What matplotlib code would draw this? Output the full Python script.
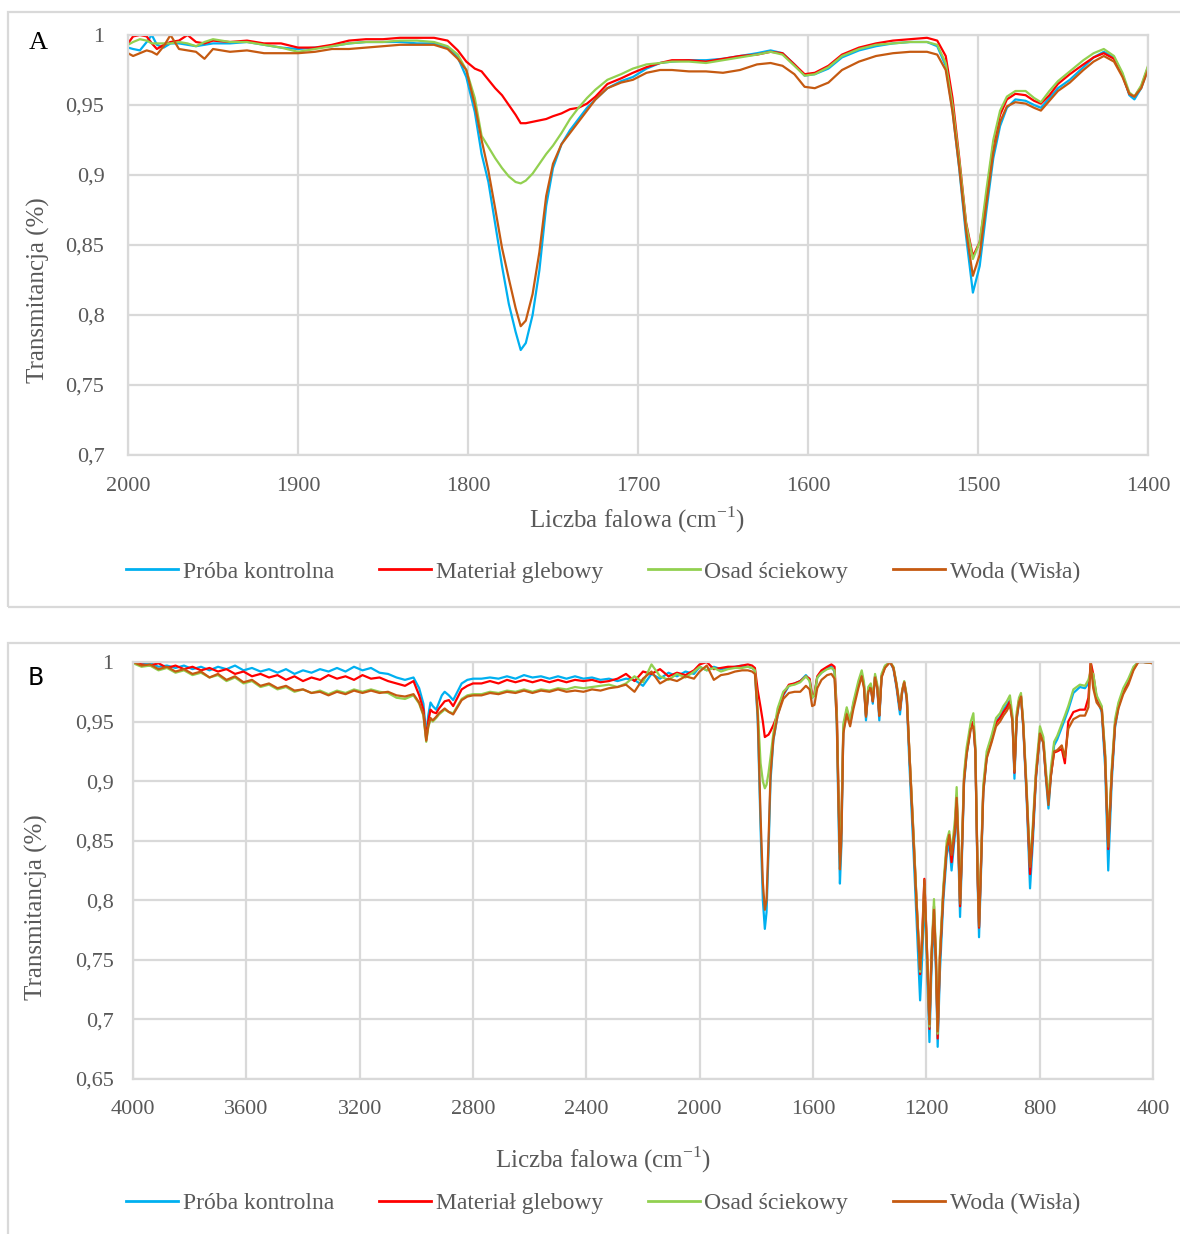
import matplotlib
matplotlib.use("Agg")
import matplotlib.pyplot as plt
from matplotlib.patches import Rectangle

plt.rcParams['font.family'] = ['Liberation Serif', 'DejaVu Serif']
plt.rcParams['mathtext.fontset'] = 'custom'
plt.rcParams['mathtext.rm'] = 'Liberation Serif'

# --- series names and colours ---
series_names = ['Próba kontrolna', 'Materiał glebowy', 'Osad ściekowy', 'Woda (Wisła)']
series_colors = ['#00B0F0', '#FF0000', '#92D050', '#C55A11']

# --- panel A: 2000-1400 cm-1 ---
wn_a = [2000, 1997, 1993, 1989, 1986, 1983, 1979, 1975, 1970, 1965, 1960, 1955, 1950,
        1940, 1930, 1920, 1910, 1900, 1890, 1880, 1870, 1860, 1850, 1840, 1830, 1820,
        1812, 1806, 1801, 1796, 1792, 1788, 1784, 1780, 1776, 1772, 1769, 1766, 1762,
        1758, 1754, 1750, 1745, 1740, 1735, 1730, 1725, 1718, 1710, 1703, 1695, 1687,
        1680, 1670, 1660, 1650, 1640, 1630, 1622, 1615, 1608, 1602, 1596, 1588, 1580,
        1570, 1560, 1550, 1540, 1530, 1524, 1519, 1515, 1511, 1507, 1503, 1499, 1495,
        1491, 1487, 1483, 1478, 1472, 1467, 1463, 1458, 1453, 1446, 1438, 1432, 1426,
        1420, 1415, 1411, 1408, 1404, 1400]

kontrola_a = [0.991, 0.990, 0.989, 0.995, 1.000, 0.993, 0.991, 0.994, 0.994, 0.993, 0.992, 0.993, 0.994,
              0.994, 0.995, 0.993, 0.991, 0.990, 0.991, 0.992, 0.994, 0.995, 0.995, 0.995, 0.994, 0.994,
              0.991, 0.984, 0.970, 0.945, 0.915, 0.895, 0.865, 0.835, 0.808, 0.788, 0.775, 0.780, 0.800,
              0.832, 0.878, 0.905, 0.922, 0.932, 0.940, 0.948, 0.954, 0.962, 0.967, 0.970, 0.976, 0.980,
              0.981, 0.982, 0.982, 0.983, 0.985, 0.987, 0.989, 0.987, 0.979, 0.971, 0.972, 0.976, 0.984,
              0.989, 0.992, 0.994, 0.995, 0.995, 0.992, 0.978, 0.946, 0.904, 0.856, 0.816, 0.835, 0.875,
              0.912, 0.935, 0.948, 0.954, 0.953, 0.950, 0.948, 0.955, 0.962, 0.968, 0.977, 0.984, 0.988,
              0.984, 0.972, 0.957, 0.954, 0.962, 0.976]

gleba_a = [0.994, 0.999, 1.000, 0.999, 0.994, 0.990, 0.993, 0.995, 0.996, 1.000, 0.995, 0.994, 0.996,
           0.995, 0.996, 0.994, 0.994, 0.991, 0.991, 0.993, 0.996, 0.997, 0.997, 0.998, 0.998, 0.998,
           0.996, 0.989, 0.981, 0.976, 0.974, 0.968, 0.962, 0.957, 0.950, 0.943, 0.937, 0.937, 0.938,
           0.939, 0.940, 0.942, 0.944, 0.947, 0.948, 0.951, 0.956, 0.965, 0.969, 0.973, 0.977, 0.980,
           0.982, 0.982, 0.981, 0.983, 0.985, 0.986, 0.988, 0.987, 0.979, 0.972, 0.973, 0.978, 0.986,
           0.991, 0.994, 0.996, 0.997, 0.998, 0.996, 0.985, 0.955, 0.912, 0.866, 0.842, 0.852, 0.885,
           0.922, 0.943, 0.954, 0.958, 0.957, 0.953, 0.951, 0.957, 0.965, 0.972, 0.979, 0.984, 0.987,
           0.983, 0.971, 0.958, 0.956, 0.963, 0.977]

osad_a = [0.993, 0.995, 0.997, 0.996, 0.994, 0.994, 0.994, 0.994, 0.995, 0.994, 0.992, 0.995, 0.997,
          0.995, 0.995, 0.993, 0.991, 0.988, 0.990, 0.992, 0.994, 0.995, 0.995, 0.996, 0.996, 0.995,
          0.992, 0.986, 0.975, 0.955, 0.928, 0.920, 0.912, 0.905, 0.899, 0.895, 0.894, 0.896, 0.901,
          0.908, 0.915, 0.921, 0.930, 0.940, 0.948, 0.955, 0.961, 0.968, 0.972, 0.976, 0.979, 0.980,
          0.981, 0.981, 0.980, 0.982, 0.984, 0.986, 0.988, 0.986, 0.978, 0.971, 0.972, 0.977, 0.985,
          0.990, 0.993, 0.994, 0.995, 0.995, 0.993, 0.980, 0.950, 0.910, 0.865, 0.840, 0.852, 0.890,
          0.925, 0.946, 0.956, 0.960, 0.960, 0.955, 0.952, 0.960, 0.967, 0.974, 0.982, 0.987, 0.990,
          0.985, 0.973, 0.959, 0.956, 0.964, 0.978]

woda_a = [0.987, 0.985, 0.987, 0.989, 0.988, 0.986, 0.992, 1.000, 0.990, 0.989, 0.988, 0.983, 0.990,
          0.988, 0.989, 0.987, 0.987, 0.987, 0.988, 0.990, 0.990, 0.991, 0.992, 0.993, 0.993, 0.993,
          0.990, 0.983, 0.975, 0.950, 0.925, 0.903, 0.876, 0.848, 0.826, 0.805, 0.792, 0.796, 0.815,
          0.845, 0.885, 0.908, 0.922, 0.930, 0.938, 0.946, 0.954, 0.962, 0.966, 0.968, 0.973, 0.975,
          0.975, 0.974, 0.974, 0.973, 0.975, 0.979, 0.980, 0.978, 0.972, 0.963, 0.962, 0.966, 0.975,
          0.981, 0.985, 0.987, 0.988, 0.988, 0.986, 0.975, 0.945, 0.905, 0.860, 0.828, 0.843, 0.880,
          0.916, 0.938, 0.949, 0.952, 0.951, 0.948, 0.946, 0.953, 0.960, 0.966, 0.975, 0.981, 0.985,
          0.981, 0.970, 0.958, 0.956, 0.962, 0.975]

# --- panel B: 4000-400 cm-1 ---
wn_b = [4000, 3970, 3940, 3910, 3880, 3850, 3820, 3790, 3760, 3730, 3700, 3670, 3640, 3610,
        3580, 3550, 3520, 3490, 3460, 3430, 3400, 3370, 3340, 3310, 3280, 3250, 3220, 3190,
        3160, 3130, 3100, 3070, 3040, 3010,
        2990, 2975, 2965, 2958, 2950, 2942, 2930, 2920, 2910, 2900, 2885, 2870, 2855, 2840,
        2820, 2800,
        2770, 2740, 2710, 2680, 2650, 2620, 2590, 2560, 2530, 2500, 2470, 2440, 2410, 2380,
        2350, 2320, 2290, 2260, 2230, 2200, 2170, 2140, 2110, 2080, 2050, 2020,
        2000, 1975, 1950, 1925, 1900, 1875, 1850, 1830, 1815,
        1805, 1795, 1785, 1777, 1770, 1764, 1757, 1750, 1740, 1725, 1705, 1685, 1665, 1645,
        1625, 1612, 1603, 1595, 1585, 1570, 1550, 1535, 1524, 1516, 1510, 1505, 1500, 1493,
        1481, 1469, 1458, 1440, 1428, 1420, 1413, 1405, 1396, 1389, 1381, 1373, 1366, 1358,
        1346, 1328, 1316, 1305, 1293, 1285, 1278, 1269, 1260, 1246, 1234, 1222, 1214, 1207,
        1199, 1189, 1182, 1173, 1166, 1160, 1152, 1140, 1128, 1119, 1111, 1099, 1093, 1087,
        1081, 1075, 1067, 1058, 1043, 1034, 1027, 1019, 1014, 1008, 999, 987, 969, 954,
        940, 928, 916, 905, 896, 889, 881, 873, 866, 858, 846, 834, 825, 813,
        799, 787, 778, 769, 760, 749, 738, 722, 711, 699, 681, 658, 640, 628,
        620, 611, 599, 581, 569, 558, 546, 534, 522, 505, 487, 469, 452, 434, 400]

kontrola_b = [1.000, 0.998, 0.999, 0.996, 0.997, 0.995, 0.997, 0.994, 0.996, 0.993, 0.996, 0.994, 0.997, 0.993,
              0.995, 0.992, 0.994, 0.991, 0.994, 0.990, 0.993, 0.991, 0.994, 0.992, 0.995, 0.992, 0.996, 0.993,
              0.995, 0.991, 0.990, 0.987, 0.985, 0.987,
              0.978, 0.965, 0.938, 0.955, 0.966, 0.963, 0.960, 0.966, 0.972, 0.975, 0.972, 0.968, 0.975, 0.982,
              0.985, 0.986,
              0.986, 0.987, 0.986, 0.988, 0.986, 0.989, 0.987, 0.988, 0.986, 0.988, 0.986, 0.988, 0.986, 0.987,
              0.985, 0.986, 0.984, 0.986, 0.985, 0.980, 0.990, 0.986, 0.991, 0.988, 0.992, 0.990,
              0.996, 0.993, 0.996, 0.994, 0.995, 0.996, 0.997, 0.996, 0.995,
              0.993, 0.950, 0.860, 0.800, 0.776, 0.790, 0.840, 0.900, 0.934, 0.955, 0.972, 0.980, 0.982, 0.984,
              0.989, 0.985, 0.970, 0.972, 0.987, 0.991, 0.995, 0.996, 0.992, 0.948, 0.870, 0.814, 0.845, 0.942,
              0.958, 0.948, 0.963, 0.981, 0.990, 0.981, 0.951, 0.976, 0.980, 0.965, 0.988, 0.978, 0.951, 0.988,
              0.996, 1.000, 0.994, 0.978, 0.956, 0.975, 0.982, 0.968, 0.915, 0.845, 0.780, 0.716, 0.755, 0.805,
              0.755, 0.681, 0.740, 0.785, 0.740, 0.677, 0.740, 0.800, 0.838, 0.848, 0.825, 0.855, 0.885, 0.840,
              0.786, 0.830, 0.898, 0.922, 0.946, 0.950, 0.924, 0.815, 0.769, 0.815, 0.890, 0.920, 0.935, 0.950,
              0.954, 0.960, 0.964, 0.968, 0.950, 0.902, 0.952, 0.966, 0.971, 0.945, 0.885, 0.810, 0.845, 0.902,
              0.940, 0.932, 0.902, 0.877, 0.905, 0.930, 0.935, 0.945, 0.952, 0.960, 0.974, 0.979, 0.978, 0.982,
              0.990, 0.985, 0.970, 0.958, 0.912, 0.825, 0.898, 0.945, 0.962, 0.976, 0.984, 0.995, 1.000, 1.000, 0.999]

gleba_b = [1.000, 0.998, 0.997, 0.999, 0.995, 0.997, 0.994, 0.996, 0.993, 0.995, 0.992, 0.994, 0.990, 0.992,
           0.988, 0.990, 0.987, 0.989, 0.985, 0.988, 0.984, 0.987, 0.985, 0.989, 0.986, 0.988, 0.985, 0.989,
           0.986, 0.987, 0.984, 0.982, 0.980, 0.984,
           0.972, 0.960, 0.935, 0.950, 0.960, 0.958, 0.957, 0.961, 0.964, 0.967, 0.968, 0.963, 0.970, 0.977,
           0.980, 0.982,
           0.982, 0.984, 0.982, 0.985, 0.983, 0.985, 0.983, 0.985, 0.983, 0.985, 0.983, 0.985, 0.984, 0.985,
           0.983, 0.984, 0.986, 0.990, 0.984, 0.992, 0.990, 0.994, 0.988, 0.991, 0.989, 0.993,
           0.998, 1.000, 0.994, 0.995, 0.996, 0.996, 0.997, 0.998, 0.997,
           0.995, 0.976, 0.962, 0.950, 0.937, 0.938, 0.939, 0.942, 0.947, 0.956, 0.973, 0.981, 0.982, 0.984,
           0.988, 0.986, 0.972, 0.973, 0.988, 0.993, 0.996, 0.998, 0.996, 0.960, 0.890, 0.840, 0.860, 0.944,
           0.960, 0.950, 0.964, 0.981, 0.989, 0.980, 0.955, 0.976, 0.980, 0.967, 0.988, 0.979, 0.955, 0.988,
           0.996, 1.000, 0.995, 0.980, 0.960, 0.976, 0.983, 0.970, 0.925, 0.858, 0.797, 0.738, 0.775, 0.818,
           0.768, 0.692, 0.752, 0.795, 0.748, 0.684, 0.752, 0.808, 0.845, 0.852, 0.832, 0.860, 0.888, 0.848,
           0.795, 0.838, 0.902, 0.924, 0.946, 0.950, 0.926, 0.822, 0.777, 0.822, 0.893, 0.921, 0.935, 0.949,
           0.953, 0.958, 0.962, 0.967, 0.952, 0.907, 0.955, 0.968, 0.972, 0.948, 0.890, 0.822, 0.852, 0.905,
           0.940, 0.933, 0.905, 0.885, 0.906, 0.924, 0.925, 0.927, 0.915, 0.950, 0.958, 0.960, 0.960, 0.970,
           1.000, 0.990, 0.970, 0.962, 0.920, 0.843, 0.905, 0.948, 0.964, 0.975, 0.983, 0.994, 1.000, 1.000, 0.999]

osad_b = [0.999, 0.996, 0.997, 0.993, 0.995, 0.991, 0.993, 0.989, 0.991, 0.987, 0.989, 0.984, 0.987, 0.982,
          0.984, 0.979, 0.981, 0.977, 0.979, 0.975, 0.977, 0.974, 0.976, 0.973, 0.976, 0.974, 0.977, 0.975,
          0.977, 0.975, 0.974, 0.970, 0.969, 0.972,
          0.965, 0.955, 0.933, 0.945, 0.952, 0.950, 0.953, 0.956, 0.958, 0.960, 0.958, 0.957, 0.963, 0.969,
          0.972, 0.973,
          0.973, 0.975, 0.974, 0.976, 0.975, 0.977, 0.975, 0.977, 0.976, 0.978, 0.977, 0.979, 0.978, 0.979,
          0.980, 0.981, 0.979, 0.982, 0.988, 0.983, 0.998, 0.988, 0.985, 0.990, 0.987, 0.992,
          0.996, 0.993, 0.995, 0.992, 0.994, 0.995, 0.995, 0.996, 0.995,
          0.993, 0.960, 0.915, 0.900, 0.894, 0.897, 0.907, 0.920, 0.940, 0.961, 0.975, 0.980, 0.981, 0.983,
          0.988, 0.984, 0.970, 0.972, 0.987, 0.991, 0.994, 0.995, 0.993, 0.955, 0.888, 0.838, 0.862, 0.948,
          0.962, 0.951, 0.966, 0.984, 0.993, 0.983, 0.956, 0.979, 0.982, 0.969, 0.990, 0.981, 0.957, 0.990,
          0.997, 1.000, 0.996, 0.982, 0.962, 0.977, 0.984, 0.972, 0.926, 0.860, 0.798, 0.740, 0.770, 0.812,
          0.765, 0.694, 0.755, 0.801, 0.755, 0.688, 0.758, 0.812, 0.850, 0.858, 0.840, 0.868, 0.895, 0.852,
          0.799, 0.842, 0.906, 0.928, 0.950, 0.957, 0.930, 0.826, 0.782, 0.826, 0.897, 0.925, 0.939, 0.953,
          0.957, 0.963, 0.967, 0.972, 0.955, 0.910, 0.958, 0.970, 0.974, 0.950, 0.895, 0.830, 0.860, 0.910,
          0.946, 0.937, 0.910, 0.886, 0.912, 0.933, 0.938, 0.948, 0.955, 0.963, 0.977, 0.981, 0.980, 0.985,
          0.992, 0.990, 0.972, 0.963, 0.925, 0.848, 0.910, 0.952, 0.966, 0.978, 0.986, 0.996, 1.000, 1.000, 0.999]

woda_b = [1.000, 0.997, 0.998, 0.994, 0.996, 0.992, 0.994, 0.990, 0.992, 0.987, 0.990, 0.985, 0.988, 0.983,
          0.985, 0.980, 0.982, 0.978, 0.980, 0.976, 0.977, 0.974, 0.975, 0.972, 0.975, 0.973, 0.976, 0.974,
          0.976, 0.974, 0.975, 0.972, 0.971, 0.973,
          0.966, 0.956, 0.934, 0.946, 0.953, 0.951, 0.954, 0.957, 0.959, 0.961, 0.958, 0.956, 0.962, 0.968,
          0.971, 0.972,
          0.972, 0.974, 0.973, 0.975, 0.974, 0.976, 0.974, 0.976, 0.975, 0.977, 0.975, 0.976, 0.975, 0.977,
          0.976, 0.978, 0.979, 0.981, 0.975, 0.986, 0.992, 0.982, 0.986, 0.984, 0.988, 0.986,
          0.992, 0.997, 0.985, 0.989, 0.990, 0.992, 0.993, 0.993, 0.992,
          0.990, 0.955, 0.870, 0.815, 0.792, 0.800, 0.850, 0.905, 0.935, 0.955, 0.969, 0.974, 0.975, 0.975,
          0.980, 0.977, 0.963, 0.964, 0.978, 0.985, 0.989, 0.990, 0.986, 0.950, 0.880, 0.826, 0.850, 0.940,
          0.956, 0.946, 0.960, 0.978, 0.988, 0.978, 0.954, 0.975, 0.978, 0.967, 0.987, 0.978, 0.955, 0.987,
          0.995, 1.000, 0.995, 0.981, 0.960, 0.976, 0.983, 0.970, 0.925, 0.856, 0.795, 0.742, 0.767, 0.817,
          0.767, 0.696, 0.752, 0.792, 0.752, 0.690, 0.752, 0.806, 0.844, 0.855, 0.838, 0.860, 0.886, 0.850,
          0.797, 0.836, 0.900, 0.922, 0.944, 0.946, 0.925, 0.822, 0.778, 0.822, 0.891, 0.919, 0.933, 0.946,
          0.950, 0.955, 0.959, 0.964, 0.950, 0.908, 0.953, 0.966, 0.971, 0.947, 0.891, 0.828, 0.855, 0.905,
          0.940, 0.932, 0.905, 0.880, 0.905, 0.925, 0.926, 0.930, 0.920, 0.944, 0.952, 0.955, 0.955, 0.962,
          1.000, 0.978, 0.966, 0.960, 0.921, 0.845, 0.905, 0.947, 0.961, 0.973, 0.981, 0.993, 1.000, 1.000, 0.999]

# --- axis ticks ---
xticks_a = [2000, 1900, 1800, 1700, 1600, 1500, 1400]
yticks_a = [0.7, 0.75, 0.8, 0.85, 0.9, 0.95, 1.0]
ylabels_a = ['0,7', '0,75', '0,8', '0,85', '0,9', '0,95', '1']
xticks_b = [4000, 3600, 3200, 2800, 2400, 2000, 1600, 1200, 800, 400]
yticks_b = [0.65, 0.7, 0.75, 0.8, 0.85, 0.9, 0.95, 1.0]
ylabels_b = ['0,65', '0,7', '0,75', '0,8', '0,85', '0,9', '0,95', '1']

TEXT = '#595959'
GRID = '#D9D9D9'
W, H = 1180, 1234

fig = plt.figure(figsize=(W / 100, H / 100), dpi=100)


def fx(px):
    return px / W


def fy(py):
    return 1 - py / H


def style_axes(ax, xlim, ylim, xticks, yticks, ylabels, xpad, ypad):
    ax.set_xlim(*xlim)
    ax.set_ylim(*ylim)
    ax.set_xticks(xticks)
    ax.set_xticklabels([str(t) for t in xticks])
    ax.set_yticks(yticks)
    ax.set_yticklabels(ylabels)
    ax.tick_params(axis='both', length=0, labelsize=16, labelcolor=TEXT)
    ax.tick_params(axis='x', pad=xpad)
    ax.tick_params(axis='y', pad=ypad)
    ax.grid(True, color=GRID, linewidth=1.6)
    ax.set_axisbelow(True)
    for sp in ax.spines.values():
        sp.set_color(GRID)
        sp.set_linewidth(1.6)


# outer frames of the two panels
fig.patches.append(Rectangle((fx(8), fy(607)), 1.2, fy(12) - fy(607), transform=fig.transFigure,
                             facecolor='none', edgecolor=GRID, linewidth=1.6))
fig.patches.append(Rectangle((fx(8), -0.2), 1.2, fy(643) + 0.2, transform=fig.transFigure,
                             facecolor='none', edgecolor=GRID, linewidth=1.6))

# panel A
ax_a = fig.add_axes([fx(128), fy(455), fx(1148) - fx(128), fy(35) - fy(455)])
for y, name, c in zip([kontrola_a, gleba_a, osad_a, woda_a], series_names, series_colors):
    ax_a.plot(wn_a, y, color=c, linewidth=1.6, label=name)
style_axes(ax_a, (2000, 1400), (0.7, 1.0), xticks_a, yticks_a, ylabels_a, 16, 17)

# panel B
ax_b = fig.add_axes([fx(133), fy(1079), fx(1153) - fx(133), fy(662) - fy(1079)])
for y, name, c in zip([kontrola_b, gleba_b, osad_b, woda_b], series_names, series_colors):
    ax_b.plot(wn_b, y, color=c, linewidth=1.6, label=name)
style_axes(ax_b, (4000, 400), (0.65, 1.0), xticks_b, yticks_b, ylabels_b, 15, 14)

xlabel = 'Liczba falowa (cm$^{\\mathregular{-1}}$)'
fig.text(fx(637), fy(520), xlabel, ha='center', va='center', fontsize=18, color=TEXT)
fig.text(fx(603), fy(1160), xlabel, ha='center', va='center', fontsize=18, color=TEXT)
fig.text(fx(38), fy(290), 'Transmitancja (%)', ha='center', va='center', rotation=90,
         fontsize=18, color=TEXT)
fig.text(fx(36), fy(907), 'Transmitancja (%)', ha='center', va='center', rotation=90,
         fontsize=18, color=TEXT)

fig.text(fx(38), fy(43), 'A', ha='center', va='center', fontsize=19, color='black')
fig.text(fx(36), fy(678), 'B', ha='center', va='center', fontsize=17, color='black',
         family='DejaVu Sans')

for ax, ly in [(ax_a, 572), (ax_b, 1203)]:
    handles, labels = ax.get_legend_handles_labels()
    leg = fig.legend(handles, labels, loc='center', bbox_to_anchor=(fx(603), fy(ly)),
                     ncol=4, frameon=False, fontsize=17, handlelength=2.2,
                     handletextpad=0.2, columnspacing=1.9)
    for t in leg.get_texts():
        t.set_color(TEXT)
    for l in leg.get_lines():
        l.set_linewidth(2.0)

fig.savefig('out.png', dpi=100)
